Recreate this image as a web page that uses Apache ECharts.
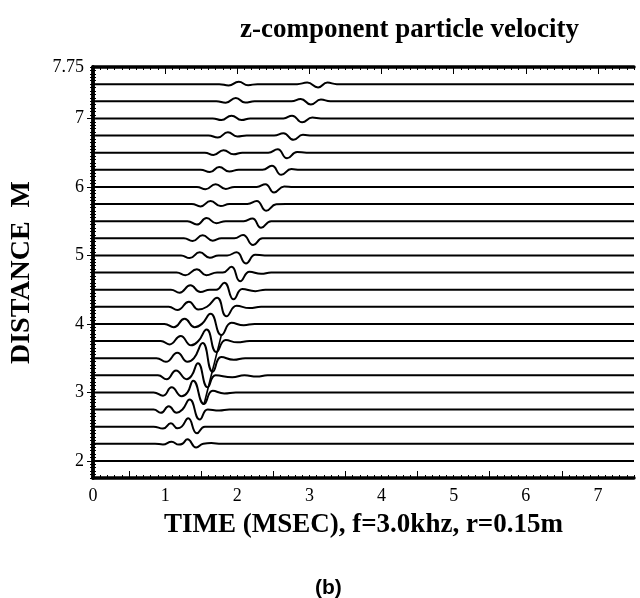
<!DOCTYPE html>
<html><head><meta charset="utf-8">
<script src="https://cdn.jsdelivr.net/npm/echarts@6/dist/echarts.min.js"></script>
<style>html,body{margin:0;padding:0;background:#fff}#c{width:640px;height:598px}</style>
</head><body><div id="c"></div><script>
const titleText = 'z-component particle velocity';
const xAxisTitle = 'TIME (MSEC), f=3.0khz, r=0.15m';
const yAxisTitle = 'DISTANCE  M';
const panelLabel = '(b)';
const timeMin = 0, timeMax = 7.5;
const distMin = 1.75, distMax = 7.75;
const xTickLabels = ['0','1','2','3','4','5','6','7'];
const yTickLabels = ['2','3','4','5','6','7','7.75'];
const xLongTicks = [0.5,1.5,2.5,3.5,4.5,5.5,6.5];
const xTopLongTicks = [1,2,3,4,5,6,7];
const yLongTicks = [2,3,4,5,6,7];

// trace baselines (m)
const distances = [2.0,2.25,2.5,2.75,3.0,3.25,3.5,3.75,4.0,4.25,4.5,4.75,5.0,5.25,5.5,5.75,6.0,6.25,6.5,6.75,7.0,7.25,7.5];

// wiggle key points per trace: [time (ms), velocity offset (in m of the distance axis)]
const w200 = [];
const w225 = [[0.86,0],[0.97,-0.01],[1.09,0.029],[1.19,-0.012],[1.24,0],[1.31,0.066],[1.43,-0.054],[1.53,0],[1.64,0.01],[1.78,0]];
const w250 = [[0.84,0],[0.97,-0.029],[1.08,0.048],[1.17,-0.025],[1.23,0],[1.32,0.121],[1.44,-0.098],[1.55,0],[1.69,0]];
const w275 = [[0.84,0],[0.94,-0.048],[1.05,0.048],[1.16,-0.048],[1.24,0],[1.34,0.146],[1.48,-0.146],[1.59,0],[1.75,-0.015],[1.89,0]];
const w300 = [[0.84,0],[0.97,-0.048],[1.09,0.073],[1.23,-0.058],[1.31,0],[1.39,0.171],[1.54,-0.171],[1.66,0.022],[1.82,-0.015],[1.98,0]];
const w325 = [[0.90,0],[1.02,-0.058],[1.15,0.069],[1.30,-0.058],[1.37,0],[1.455,0.175],[1.59,-0.175],[1.70,0],[1.93,-0.029],[2.10,0],[2.27,-0.02],[2.42,0]];
const w350 = [[0.88,0],[1.01,-0.054],[1.17,0.077],[1.31,-0.054],[1.40,0],[1.52,0.219],[1.66,-0.199],[1.78,0.015],[1.95,-0.025],[2.11,0]];
const w375 = [[0.94,0],[1.06,-0.05],[1.215,0.073],[1.36,-0.063],[1.46,0],[1.575,0.168],[1.71,-0.161],[1.84,0.015],[2.00,-0.02],[2.17,0]];
const w400 = [[0.99,0],[1.12,-0.048],[1.27,0.073],[1.41,-0.048],[1.51,0],[1.63,0.146],[1.78,-0.161],[1.92,0.015],[2.09,-0.02],[2.24,0]];
const w425 = [[1.05,0],[1.17,-0.048],[1.33,0.073],[1.46,-0.04],[1.58,0],[1.72,0.131],[1.85,-0.139],[1.99,0.015],[2.17,-0.02],[2.33,0]];
const w450 = [[1.08,0],[1.20,-0.044],[1.35,0.063],[1.49,-0.034],[1.62,0],[1.71,0],[1.82,0.102],[1.95,-0.142],[2.07,0.008],[2.25,-0.022],[2.39,0]];
const w475 = [[1.16,0],[1.28,-0.04],[1.44,0.048],[1.57,-0.04],[1.72,0],[1.80,0],[1.92,0.083],[2.04,-0.127],[2.17,0.01],[2.33,-0.02],[2.47,0]];
const w500 = [[1.22,0],[1.34,-0.04],[1.48,0.044],[1.62,-0.035],[1.74,0],[1.86,0],[1.99,0.044],[2.12,-0.117],[2.25,0.008],[2.38,0]];
const w525 = [[1.26,0],[1.38,-0.04],[1.52,0.044],[1.66,-0.035],[1.78,0],[1.96,0],[2.08,0.048],[2.22,-0.098],[2.35,0],[2.47,0]];
const w550 = [[1.31,0],[1.44,-0.05],[1.575,0.044],[1.71,-0.03],[1.84,0],[2.09,0],[2.21,0.04],[2.33,-0.098],[2.47,0],[2.60,0]];
const w575 = [[1.37,0],[1.49,-0.035],[1.63,0.044],[1.77,-0.03],[1.89,0],[2.14,0],[2.27,0.044],[2.40,-0.098],[2.54,-0.005],[2.67,0]];
const w600 = [[1.44,0],[1.56,-0.035],[1.70,0.04],[1.84,-0.03],[1.96,0],[2.27,0],[2.39,0.04],[2.51,-0.083],[2.65,0.005],[2.78,0]];
const w625 = [[1.49,0],[1.62,-0.034],[1.75,0.04],[1.89,-0.025],[2.02,0],[2.35,0],[2.48,0.058],[2.61,-0.073],[2.75,0.01],[2.87,0]];
const w650 = [[1.55,0],[1.67,-0.034],[1.81,0.036],[1.95,-0.025],[2.07,0],[2.43,0],[2.56,0.048],[2.69,-0.083],[2.83,0.008],[2.96,0]];
const w675 = [[1.60,0],[1.73,-0.029],[1.87,0.048],[2.00,-0.015],[2.13,0],[2.51,0],[2.64,0.034],[2.78,-0.063],[2.91,0.01],[3.04,0]];
const w700 = [[1.66,0],[1.78,-0.025],[1.92,0.04],[2.06,-0.025],[2.18,0],[2.64,0],[2.76,0.04],[2.90,-0.058],[3.04,0.012],[3.16,0]];
const w725 = [[1.71,0],[1.84,-0.022],[1.98,0.048],[2.11,-0.02],[2.24,0],[2.75,0],[2.88,0.034],[3.02,-0.048],[3.16,0.025],[3.29,0]];
const w750 = [[1.75,0],[1.88,-0.02],[2.02,0.034],[2.15,-0.015],[2.28,0],[2.83,0],[2.97,0.022],[3.12,-0.048],[3.25,0.022],[3.38,0]];
const wiggles = [w200,w225,w250,w275,w300,w325,w350,w375,w400,w425,w450,w475,w500,w525,w550,w575,w600,w625,w650,w675,w700,w725,w750];

// line joining the large troughs (time ms, distance m)
const troughLine = [[1.54,2.83],[1.78,3.84]];

const serif = 'Liberation Serif';
const series = distances.map((d, i) => ({
  type: 'line',
  data: [[timeMin, d]].concat(wiggles[i].map(p => [p[0], d + p[1]])).concat([[timeMax, d]]),
  smooth: 0.5,
  symbol: 'none',
  lineStyle: {color: '#000', width: 2},
  silent: true
}));
series.push({
  type: 'line', data: troughLine, symbol: 'none',
  lineStyle: {color: '#000', width: 1.6}, silent: true
});

function near(v, list) {
  for (const s of list) { if (Math.abs(parseFloat(s) - v) < 1e-6) return s; }
  return null;
}
const lineStyleFrame = {color: '#000', width: 3.5};
const chart = echarts.init(document.getElementById('c'), null, {renderer: 'canvas'});
chart.setOption({
  animation: false,
  backgroundColor: '#fff',
  grid: {left: 92, top: 67, width: 542, height: 411, containLabel: false},
  xAxis: [
    {type: 'value', min: timeMin, max: timeMax, interval: 0.1, position: 'bottom',
     axisLine: {show: true, lineStyle: lineStyleFrame},
     axisTick: {show: true, inside: true, length: 3, lineStyle: {color: '#000', width: 1}},
     splitLine: {show: false},
     axisLabel: {margin: 9, color: '#000', fontFamily: serif, fontSize: 18,
       formatter: v => near(v, xTickLabels) || ''},
     name: xAxisTitle, nameLocation: 'middle', nameGap: 34,
     nameTextStyle: {fontFamily: serif, fontWeight: 'bold', fontSize: 27, color: '#000'}},
    {type: 'value', min: timeMin, max: timeMax, interval: 0.5, position: 'bottom',
     axisLine: {show: false},
     axisTick: {show: true, inside: true, length: 7, customValues: xLongTicks, lineStyle: {color: '#000', width: 1}},
     axisLabel: {show: false}, splitLine: {show: false}},
    {type: 'value', min: timeMin, max: timeMax, interval: 0.1, position: 'top',
     axisLine: {show: true, lineStyle: lineStyleFrame},
     axisTick: {show: true, inside: true, length: 3, lineStyle: {color: '#000', width: 1}},
     axisLabel: {show: false}, splitLine: {show: false}},
    {type: 'value', min: timeMin, max: timeMax, interval: 1, position: 'top',
     axisLine: {show: false},
     axisTick: {show: true, inside: true, length: 7, customValues: xTopLongTicks, lineStyle: {color: '#000', width: 1}},
     axisLabel: {show: false}, splitLine: {show: false}}
  ],
  yAxis: [
    {type: 'value', min: distMin, max: distMax, interval: 0.05, position: 'left',
     axisLine: {show: true, lineStyle: lineStyleFrame},
     axisTick: {show: true, inside: true, length: 3, lineStyle: {color: '#000', width: 1}},
     splitLine: {show: false},
     axisLabel: {margin: 9, color: '#000', fontFamily: serif, fontSize: 18,
       formatter: v => near(v, yTickLabels) || ''},
     name: yAxisTitle, nameLocation: 'middle', nameGap: 57, nameRotate: 90,
     nameTextStyle: {fontFamily: serif, fontWeight: 'bold', fontSize: 28, color: '#000'}},
    {type: 'value', min: distMin, max: distMax, interval: 0.25, position: 'left',
     axisLine: {show: false},
     axisTick: {show: true, inside: true, length: 6, customValues: yLongTicks, lineStyle: {color: '#000', width: 1}},
     axisLabel: {show: false}, splitLine: {show: false}},
    {type: 'value', min: distMin, max: distMax, interval: 0.05, position: 'right',
     axisLine: {show: true, lineStyle: lineStyleFrame},
     axisTick: {show: true, inside: true, length: 3, lineStyle: {color: '#000', width: 1}},
     axisLabel: {show: false}, splitLine: {show: false}},
    {type: 'value', min: distMin, max: distMax, interval: 0.25, position: 'right',
     axisLine: {show: false},
     axisTick: {show: true, inside: true, length: 6, customValues: yLongTicks, lineStyle: {color: '#000', width: 1}},
     axisLabel: {show: false}, splitLine: {show: false}}
  ],
  series: series,
  graphic: [
    {type: 'text', left: 240, top: 17,
     style: {text: titleText, font: 'bold 27px "Liberation Serif"', fill: '#000'}},
    {type: 'text', left: 315, top: 578,
     style: {text: panelLabel, font: 'bold 21px "Liberation Sans"', fill: '#000'}}
  ]
});
</script></body></html>
